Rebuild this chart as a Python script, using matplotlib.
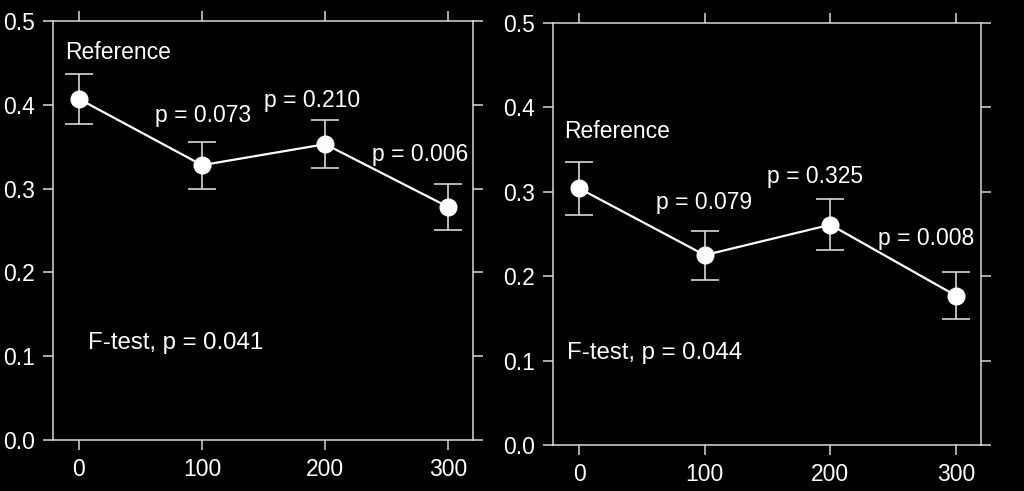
import matplotlib
matplotlib.use('Agg')
import matplotlib.pyplot as plt

plt.rcParams['font.family'] = ['Liberation Sans', 'DejaVu Sans']

# Data
doses = [0, 100, 200, 300]
left_mean = [0.407, 0.328, 0.353, 0.278]
left_err = [0.030, 0.028, 0.029, 0.028]
right_mean = [0.304, 0.225, 0.261, 0.177]
right_err = [0.031, 0.029, 0.030, 0.028]
left_pvals = ['p = 0.073', 'p = 0.210', 'p = 0.006']
right_pvals = ['p = 0.079', 'p = 0.325', 'p = 0.008']
left_ftest = 'F-test, p = 0.041'
right_ftest = 'F-test, p = 0.044'
xticks = [0, 100, 200, 300]
yticks = [0.0, 0.1, 0.2, 0.3, 0.4, 0.5]

fig = plt.figure(figsize=(10.24, 4.91), dpi=100, facecolor='black')
ax1 = fig.add_axes([0.0518, 0.1039, 0.4101, 0.8533])
ax2 = fig.add_axes([0.5400, 0.0937, 0.4180, 0.8594])

spine_col = '#d8d8d8'


def draw_panel(ax, mean, err, pvals, ftest, ref_xy, p_xy, f_xy):
    ax.set_facecolor('black')
    ax.errorbar(doses, mean, yerr=err, color='white', lw=1.6,
                marker='o', ms=12, mfc='white', mec='white',
                ecolor=spine_col, elinewidth=1.2, capsize=10, capthick=1.2)
    ax.set_xlim(-21, 320)
    ax.set_ylim(0, 0.5)
    ax.set_xticks(xticks)
    ax.set_yticks(yticks)
    ax.set_yticklabels([f'{v:.1f}' for v in yticks])
    ax.tick_params(direction='out', length=7, width=1.1, color=spine_col,
                   labelcolor='white', labelsize=16.5, pad=6,
                   top=True, right=True, labeltop=False, labelright=False)
    for s in ax.spines.values():
        s.set_color(spine_col)
        s.set_linewidth(1.1)
    ax.text(ref_xy[0], ref_xy[1], 'Reference', color='white', fontsize=16.5,
            ha='center', va='center')
    for (x, y), t in zip(p_xy, pvals):
        ax.text(x, y, t, color='white', fontsize=16.5, ha='center', va='center')
    ax.text(f_xy[0], f_xy[1], ftest, color='white', fontsize=17.3,
            ha='left', va='center')


draw_panel(ax1, left_mean, left_err, left_pvals, left_ftest,
           (32, 0.463), [(101, 0.387), (189, 0.405), (277, 0.341)], (7, 0.116))
draw_panel(ax2, right_mean, right_err, right_pvals, right_ftest,
           (30, 0.371), [(99, 0.287), (188, 0.318), (276, 0.245)], (-10, 0.109))

fig.savefig('out.png', dpi=100, facecolor='black')
